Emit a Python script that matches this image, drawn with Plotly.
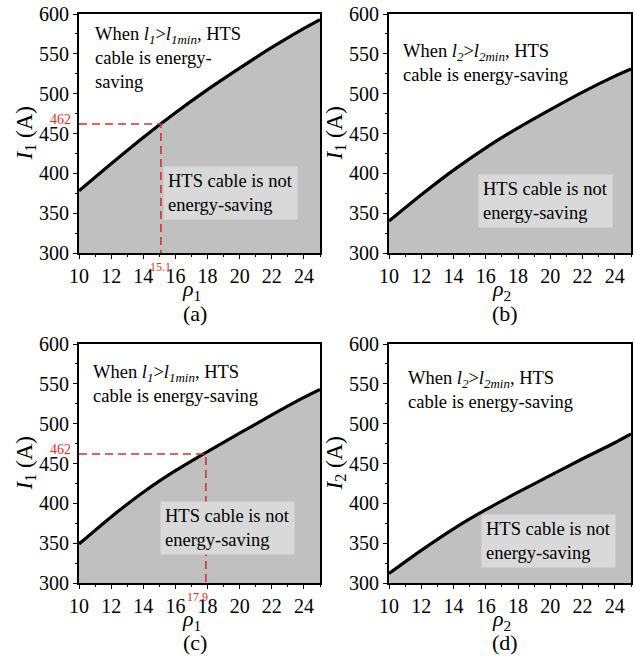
import plotly.graph_objects as go

# ---- data ----
rho = [10, 12, 14, 16, 18, 20, 22, 24, 25]
I_a = [378, 412, 445, 476, 505, 532, 558, 582, 593]
I_b = [340, 373, 404, 432, 457, 480, 502, 522, 531]
I_c = [349, 383, 414, 441, 465, 488, 511, 533, 543]
I_d = [312, 341, 368, 392, 414, 435, 456, 476, 487]

I_thr = 462
rho_thr_a = 15.1
rho_thr_c = 17.9

x_range = [10, 25]
y_range = [300, 600]
x_ticks = [10, 12, 14, 16, 18, 20, 22, 24]
y_ticks = [300, 350, 400, 450, 500, 550, 600]

panel_letters = ["(a)", "(b)", "(c)", "(d)"]
x_titles = ["<i>ρ</i><sub>1</sub>", "<i>ρ</i><sub>2</sub>", "<i>ρ</i><sub>1</sub>", "<i>ρ</i><sub>2</sub>"]
y_titles = ["<i>I</i><sub>1</sub> (A)", "<i>I</i><sub>1</sub> (A)", "<i>I</i><sub>1</sub> (A)", "<i>I</i><sub>2</sub> (A)"]
upper_texts = [
    "When <i>l<sub>1</sub></i>><i>l<sub>1min</sub></i>, HTS<br>cable is energy-<br>saving",
    "When <i>l<sub>2</sub></i>><i>l<sub>2min</sub></i>, HTS<br>cable is energy-saving",
    "When <i>l<sub>1</sub></i>><i>l<sub>1min</sub></i>, HTS<br>cable is energy-saving",
    "When <i>l<sub>2</sub></i>><i>l<sub>2min</sub></i>, HTS<br>cable is energy-saving",
]
lower_text = "HTS cable is not<br>energy-saving"

# ---- layout geometry ----
W, H = 635, 671
FONT = "Times New Roman"
FILL = "#c0c0c0"
BOX = "#d9d9d9"
RED = "#d9302c"

xdoms = [[79 / W, 320 / W], [389 / W, 631 / W]]
ydoms = [[1 - 253 / H, 1 - 14 / H], [1 - 583 / H, 1 - 344 / H]]

curves = [I_a, I_b, I_c, I_d]
upper_pos = [(10.9, 590), (10.75, 568), (10.75, 580), (11.05, 572)]
lower_pos = [(15.25, 409), (15.5, 399), (15.05, 403), (15.7, 387)]

fig = go.Figure()
annotations = []

for i in range(4):
    r, c = divmod(i, 2)
    sfx = "" if i == 0 else str(i + 1)
    xa, ya = "x" + sfx, "y" + sfx
    fig.add_trace(go.Scatter(x=rho, y=curves[i], xaxis=xa, yaxis=ya, mode="lines",
                             line=dict(color="black", width=3.2, shape="spline", smoothing=0.6),
                             fill="tozeroy", fillcolor=FILL, showlegend=False, hoverinfo="skip"))
    axcommon = dict(showline=True, linecolor="black", linewidth=1.8, mirror=True,
                    ticks="outside", ticklen=4, tickwidth=1.3, tickcolor="black",
                    showgrid=False, zeroline=False, automargin=False, tickangle=0,
                    tickfont=dict(family=FONT, size=20, color="black"))
    fig.update_layout(**{
        ("xaxis" + sfx): dict(domain=xdoms[c], range=x_range, tickvals=x_ticks,
                              anchor=ya, minor=dict(dtick=1, tick0=10, ticks="outside", ticklen=2.5,
                                                    tickcolor="black", tickwidth=1),
                              ticklabelstandoff=0, **axcommon),
        ("yaxis" + sfx): dict(domain=ydoms[r], range=y_range, tickvals=y_ticks,
                              anchor=xa, minor=dict(dtick=25, tick0=300, ticks="outside", ticklen=2.5,
                                                    tickcolor="black", tickwidth=1),
                              ticklabelstandoff=0, **axcommon),
    })
    ux, uy = upper_pos[i]
    annotations.append(dict(x=ux, y=uy, xref=xa, yref=ya, xanchor="left", yanchor="top",
                            align="left", showarrow=False, text=upper_texts[i],
                            font=dict(family=FONT, size=18.5, color="black")))
    lx, ly = lower_pos[i]
    annotations.append(dict(x=lx, y=ly, xref=xa, yref=ya, xanchor="left", yanchor="top",
                            align="left", showarrow=False, text=lower_text, bgcolor=BOX,
                            borderpad=4, font=dict(family=FONT, size=18.5, color="black")))
    xc = (xdoms[c][0] + xdoms[c][1]) / 2
    yb = ydoms[r][0]
    annotations.append(dict(x=xc - 8 / W, y=yb - 37 / H, xref="paper", yref="paper", showarrow=False,
                            text=x_titles[i], font=dict(family=FONT, size=22, color="black"),
                            xanchor="center", yanchor="middle"))
    annotations.append(dict(x=xc - 5 / W, y=yb - 60 / H, xref="paper", yref="paper", showarrow=False,
                            text=panel_letters[i], font=dict(family=FONT, size=22, color="black"),
                            xanchor="center", yanchor="middle"))
    annotations.append(dict(x=xdoms[c][0] - 54 / W, y=(ydoms[r][0] + ydoms[r][1]) / 2,
                            xref="paper", yref="paper", showarrow=False, textangle=-90,
                            text=y_titles[i], font=dict(family=FONT, size=23, color="black"),
                            xanchor="center", yanchor="middle"))

for sfx, thr, xs in [("", rho_thr_a, 0), ("3", rho_thr_c, -8)]:
    xa, ya = "x" + sfx, "y" + sfx
    fig.add_trace(go.Scatter(x=[x_range[0], thr, thr], y=[I_thr, I_thr, y_range[0]],
                             xaxis=xa, yaxis=ya, mode="lines",
                             line=dict(color=RED, width=1.6, dash="8px,5px"),
                             showlegend=False, hoverinfo="skip"))
    annotations.append(dict(x=x_range[0], y=I_thr, xref=xa, yref=ya, xanchor="right",
                            yanchor="bottom", xshift=-6, yshift=-5, showarrow=False,
                            text=str(I_thr), font=dict(family=FONT, size=14, color=RED)))
    annotations.append(dict(x=thr, y=y_range[0], xref=xa, yref=ya, xanchor="center",
                            yanchor="top", yshift=-5, xshift=xs, showarrow=False,
                            text=str(thr), font=dict(family=FONT, size=12, color=RED)))

fig.update_layout(width=W, height=H, margin=dict(l=0, r=0, t=0, b=0),
                  paper_bgcolor="white", plot_bgcolor="white",
                  annotations=annotations, font=dict(family=FONT))

fig.write_html("out.html", config={"displayModeBar": False},
               post_script="document.body.style.margin='0';document.body.style.overflow='hidden';")
